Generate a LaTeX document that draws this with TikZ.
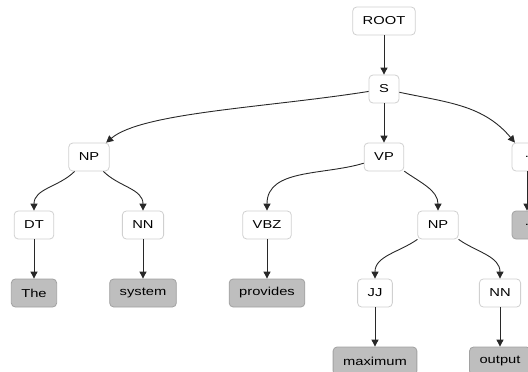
\documentclass[tikz,border=0pt]{standalone}
\usepackage{fontspec}
\setmainfont{Liberation Sans}[FakeStretch=1.28]
\usetikzlibrary{arrows.meta}

\definecolor{boxline}{RGB}{208,208,208}
\definecolor{leafgray}{RGB}{190,190,190}
\definecolor{edgecol}{RGB}{40,40,40}

\begin{document}
\begin{tikzpicture}[x=1pt, y=1pt,
    tag/.style={draw=boxline, fill=white, rounded corners=4pt, line width=0.8pt,
        minimum height=28pt, minimum width=30pt, inner xsep=10pt,
        font=\fontsize{11.5}{13}\selectfont},
    word/.style={tag, draw=leafgray!85!black, fill=leafgray},
    edge/.style={draw=edgecol, line width=0.9pt, -{Triangle[length=7pt,width=7pt]}}]

    % Fix the frame, the right column runs off the edge
    \clip (0,0) rectangle (528,-372);

    % Phrase and tag nodes
    \node[tag] (root) at (384,-21) {ROOT};
    \node[tag] (s) at (384,-89) {S};
    \node[tag] (np1) at (89,-157) {NP};
    \node[tag] (vp) at (384,-157) {VP};
    \node[tag] (punc) at (527,-157) {.};
    \node[tag] (dt) at (34,-225) {DT};
    \node[tag] (nn1) at (143,-225) {NN};
    \node[tag] (vbz) at (267,-225) {VBZ};
    \node[tag] (np2) at (438,-225) {NP};
    \node[tag] (jj) at (375,-293) {JJ};
    \node[tag] (nn2) at (500,-293) {NN};

    % Words at the leaves
    \node[word] (the) at (34,-293) {The};
    \node[word] (system) at (143,-293) {system};
    \node[word] (provides) at (267,-293) {provides};
    \node[word] (dot) at (527,-225) {.};
    \node[word] (maximum) at (375,-361) {maximum};
    \node[word] (output) at (500,-361) {output};

    % Straight edges
    \foreach \a/\b in {root/s, s/vp, dt/the, nn1/system, vbz/provides,
                       punc/dot, jj/maximum, nn2/output}
        \draw[edge] (\a) -- (\b);

    % Curved edges
    \draw[edge] (s) to[out=189, in=40, out looseness=1, in looseness=0.45] (np1);
    \draw[edge] (s) to[out=-12, in=130] (punc);
    \draw[edge] (np1) to[out=225, in=90] (dt);
    \draw[edge] (np1) to[out=-45, in=90] (nn1);
    \draw[edge] (vp) to[out=197, in=90] (vbz);
    \draw[edge] (vp) to[out=-35, in=90] (np2);
    \draw[edge] (np2) to[out=215, in=90] (jj);
    \draw[edge] (np2) to[out=-35, in=90] (nn2);
\end{tikzpicture}
\end{document}
